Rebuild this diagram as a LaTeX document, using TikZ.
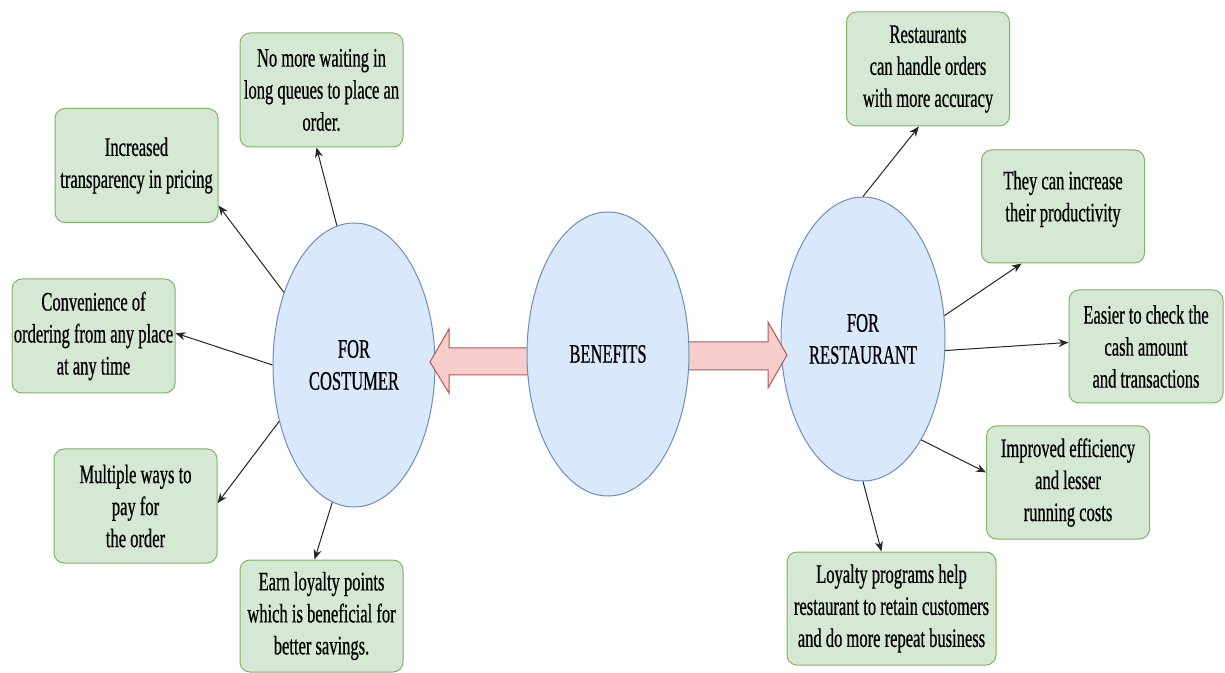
\documentclass[tikz,border=0pt]{standalone}
\usepackage{fontspec}
\setmainfont{Liberation Serif}[FakeStretch=0.62,FakeBold=0.6]
\usetikzlibrary{arrows.meta,shapes.geometric}
\definecolor{boxfill}{HTML}{D5E8D4}
\definecolor{boxline}{HTML}{82B366}
\definecolor{ellfill}{HTML}{DAE8FC}
\definecolor{ellline}{HTML}{6C8EBF}
\definecolor{arrfill}{HTML}{F8CECC}
\definecolor{arrline}{HTML}{B85450}
\begin{document}
\begin{tikzpicture}[x=0.75pt,y=-0.75pt,
  txt/.style={align=center, text=black, inner sep=0pt, font=\fontsize{20}{24}\selectfont},
  box/.style={txt, draw=boxline, fill=boxfill, rounded corners=7.5pt, line width=0.75pt,
    minimum width=122.25pt, minimum height=85.5pt},
  ell/.style={txt, ellipse, draw=ellline, fill=ellfill, line width=0.75pt,
    minimum width=121.5pt, minimum height=213pt},
  conn/.style={-{Stealth[length=7.5pt,width=6pt]}, line width=0.75pt, black!85},
  blockarrow/.style={draw=arrline, fill=arrfill, line width=0.75pt, line join=miter}
]
\useasboundingbox[fill=white] (0,0) rectangle (1225,673);

% side ellipses
\node[ell] (cost) at (354,365) {FOR\\COSTUMER};
\node[ell, minimum width=123pt] (rell) at (863,339) {FOR\\RESTAURANT};

% block arrows
\draw[blockarrow] (540,348) -- (449,348) -- (449,329) -- (430,362) -- (449,393) -- (449,375) -- (540,375) -- cycle;
\draw[blockarrow] (676,342) -- (768,342) -- (768,322) -- (787,355) -- (768,388) -- (768,370) -- (676,370) -- cycle;

% centre ellipse
\node[ell] (ben) at (608,354) {BENEFITS};

% customer boxes
\node[box] (nomore) at (321.5,90) {No more waiting in\\long queues to place an\\order.};
\node[box] (incr) at (136.5,165.5) {Increased\\transparency in pricing};
\node[box] (conv) at (93.5,336) {Convenience of\\ordering from any place\\at any time};
\node[box] (mult) at (135.5,506) {Multiple ways to\\pay for\\the order};
\node[box, minimum height=84pt] (earn) at (321.5,616) {Earn loyalty points\\which is beneficial for\\better savings.};

% restaurant boxes
\node[box] (rest) at (928,69) {Restaurants\\can handle orders\\with more accuracy};
\node[box, minimum height=84.75pt] (they) at (1063,206.5) {};
\node[txt] (theytext) at (1063,199) {They can increase\\their productivity};
\node[box, minimum width=115.5pt, minimum height=84.75pt] (easier) at (1146,346.5) {Easier to check the\\cash amount\\and transactions};
\node[box, minimum height=84.75pt] (impr) at (1068,482.5) {Improved efficiency\\and lesser\\running costs};
\node[box, minimum width=156.75pt, minimum height=84.75pt] (loyal) at (891.5,608.5) {Loyalty programs help\\restaurant to retain customers\\and do more repeat business};

% connectors
\draw[conn] (cost.97) -- (nomore.265);
\draw[conn] (cost.134.6) -- (incr.334);
\draw[conn] (cost.180) -- (conv.2);
\draw[conn] (cost.217) -- (mult.2);
\draw[conn] (cost.261) -- (earn.97);

\draw[conn] (rell.north) -- (rest.261);
\draw[conn] (rell.16) -- (they.234);
\draw[conn] (rell.352.5) -- (easier.177);
\draw[conn] (rell.300.5) -- (impr.173);
\draw[conn] (rell.south) -- (loyal.100);
\end{tikzpicture}
\end{document}
